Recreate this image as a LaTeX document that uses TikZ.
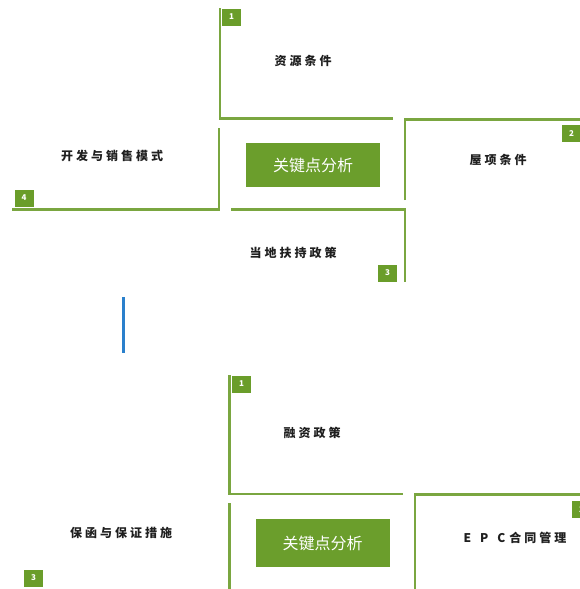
\documentclass[tikz,border=0pt]{standalone}
\usepackage{fontspec}
\newfontfamily\cjk[LetterSpace=25]{Noto Sans CJK SC}
\newfontfamily\cjkbox{Noto Sans CJK SC}
\definecolor{lineGreen}{HTML}{7AA640}
\definecolor{boxGreen}{HTML}{6B9E2C}
\definecolor{badgeGreen}{HTML}{6A9D2A}
\definecolor{barBlue}{HTML}{2A80CC}
\tikzset{
  frame/.style={draw=lineGreen, line width=2.1pt},
  badge/.style={fill=badgeGreen, text=white, font=\cjkbox\bfseries\fontsize{8}{8}\selectfont, minimum width=19pt, minimum height=17pt, inner sep=0pt},
  keybox/.style={fill=boxGreen, text=white, font=\cjkbox\fontsize{16}{16}\selectfont, minimum width=134pt, minimum height=44pt, inner sep=0pt},
  lbl/.style={font=\cjk\bfseries\fontsize{12}{12}\selectfont, text=black!88, inner sep=0pt}
}
\begin{document}
\begin{tikzpicture}[x=1pt,y=-1pt]
\useasboundingbox (0,0) rectangle (580,589);
\clip (0,0) rectangle (580,589);
\fill[white] (0,0) rectangle (580,589);

% ---------- top diagram ----------
\draw[frame] (220,8) -- (220,118.5) -- (393,118.5);
\draw[frame] (219,128) -- (219,209.5) -- (12,209.5);
\draw[frame] (405,200) -- (405,119.5) -- (580,119.5);
\draw[frame] (231,209.5) -- (405,209.5) -- (405,282);

\node[badge] (t1) at (231.5,17) {1};
\node[badge] (t2) at (571.5,133.5) {2};
\node[badge] (t3) at (387.5,273) {3};
\node[badge] (t4) at (24,198) {4};

\node[keybox, minimum height=44pt] (tk) at (313,165) {关键点分析};

\node[lbl] (ta) at (303,61) {资源条件};
\node[lbl] (tb) at (498,160) {屋项条件};
\node[lbl] (tc) at (293,253) {当地扶持政策};
\node[lbl] (td) at (112,156) {开发与销售模式};

% ---------- separator ----------
\draw[draw=barBlue, line width=3pt] (123.5,297) -- (123.5,353);

% ---------- bottom diagram ----------
\draw[frame] (229.5,375) -- (229.5,494) -- (403,494);
\draw[frame] (229.5,503) -- (229.5,590);
\draw[frame] (415,590) -- (415,494.5) -- (580,494.5);

\node[badge] (b1) at (241.5,384) {1};
\node[badge] (b2) at (581.5,509.5) {2};
\node[badge] (b3) at (33.5,578) {3};

\node[keybox, minimum height=48pt] (bk) at (322.5,543) {关键点分析};

\node[lbl] (ba) at (312,433) {融资政策};
\node[lbl] (bb) at (515,538) {E\hspace{9pt}P\hspace{9pt}C\hspace{4pt}合同管理};
\node[lbl] (bc) at (121,533) {保函与保证措施};
\end{tikzpicture}
\end{document}
